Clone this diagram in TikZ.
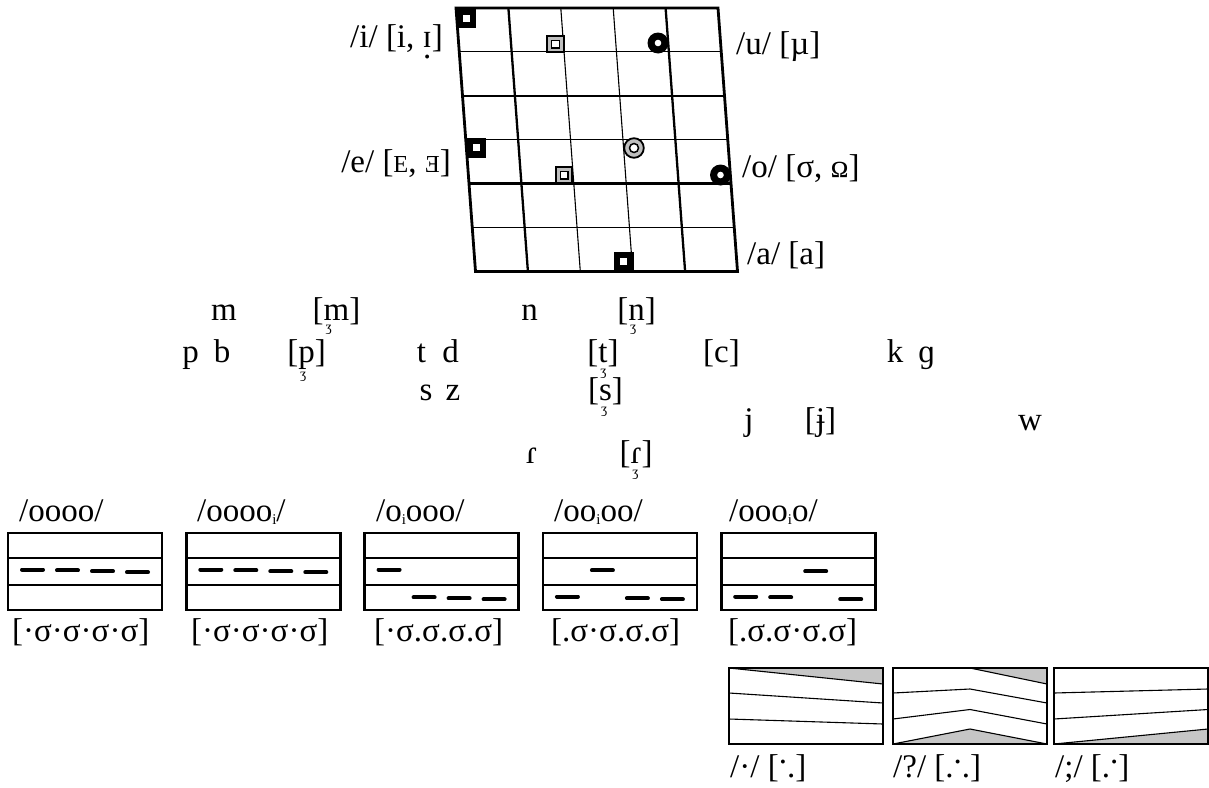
\documentclass[tikz,border=0pt]{standalone}
\usepackage{fontspec}
\setmainfont{Liberation Serif}
\usepackage{graphicx}
\newcommand\lab{\fontsize{33}{38}\selectfont}
% small ezh hook under the left part of a letter (#1 = how far down)
\newcommand\hk[2][0.34em]{\leavevmode\rlap{\kern0.06em\raisebox{-#1}{\scalebox{0.42}{ʒ}}}#2}
\newcommand\dotb[1]{\leavevmode\setbox0\hbox{#1}\rlap{\hbox to\wd0{\hss\raisebox{-0.36em}{.}\hss}}\box0}
\newcommand\tk{\raisebox{-0.12em}{\scalebox{0.45}{i}}}
\newcommand\hd{\raisebox{0.42em}{.}}
\newcommand\scE{\scalebox{0.74}{E}}
\newcommand\rscE{\reflectbox{\scalebox{0.74}{E}}}
\newcommand\tomega{\rotatebox[origin=c]{180}{ʊ}}

\begin{document}
\begin{tikzpicture}[x=1pt, y=-1pt,
  txt/.style={font=\lab, inner sep=0pt},
  frame/.style={line width=2.8pt},
  thickln/.style={line width=2.3pt},
  thinln/.style={line width=1.1pt},
  tonemark/.style={line width=4pt, line cap=round},
  shade/.style={fill=gray!45},
  blksq/.pic={\fill (-10,-10) rectangle (10,10);
              \fill[white] (-3.5,-3.5) rectangle (3.5,3.5);},
  greysq/.pic={\filldraw[fill=gray!50, line width=1.8pt] (-8.2,-8.2) rectangle (8.2,8.2);
               \filldraw[fill=white, line width=1.4pt] (-3.8,-3.8) rectangle (3.8,3.8);},
  blkring/.pic={\fill (0,0) circle (10.5);
                \fill[white] (0,0) circle (3.3);},
  greyring/.pic={\filldraw[fill=gray!50, line width=1.8pt] (0,0) circle (9.8);
                 \filldraw[fill=white, line width=1.5pt] (0,0) circle (4.5);}
]
\useasboundingbox (0,0) rectangle (1209,787);

% vowel chart
\begin{scope}[shift={(456,8)}, x={(52.4pt,0pt)}, y={(3.25pt,-43.9pt)}]
  \foreach \v in {1,3,5} \draw[thinln] (0,\v) -- (5,\v);
  \foreach \v in {2,4} \draw[thickln] (0,\v) -- (5,\v);
  \foreach \u in {2,3} \draw[thinln] (\u,0) -- (\u,6);
  \foreach \u in {1,4} \draw[thickln] (\u,0) -- (\u,6);
  \draw[frame] (0,0) -- (5,0) -- (5,6) -- (0,6) -- cycle;
\end{scope}

\pic at (466,18) {blksq};
\pic at (555.5,44) {greysq};
\pic at (658,43) {blkring};
\pic at (476,147.5) {blksq};
\pic at (634,148) {greyring};
\pic at (564,175) {greysq};
\pic at (720.5,175) {blkring};
\pic at (623.5,261.5) {blksq};

\node[txt, anchor=base east] (vi) at (443,47)  {/i/ [i, \dotb{ɪ}]};
\node[txt, anchor=base west] (vu) at (736,54)  {/u/ [µ]};
\node[txt, anchor=base east] (ve) at (451,172) {/e/ [\scE, \rscE]};
\node[txt, anchor=base west] (vo) at (742,177) {/o/ [σ, \tomega]};
\node[txt, anchor=base west] (va) at (747,264) {/a/ [a]};

% consonants
\foreach \nm/\px/\py/\tx in {
    cm/224/320/m, cmh/336.5/320/{[\hk{m}]}, cn/529.5/320/n, cnh/636.5/320/{[\hk{n}]},
    cp/190.5/362/p, cb/222/362/b, cph/306.5/362/{[\hk[0.5em]{p}]},
    ct/421.5/362/t, cd/450.5/362/d, cth/603/362/{[\hk[0.4em]{t}]},
    cc/721.5/362/{[c]}, ck/895/362/k, cg/926.5/362/ɡ,
    cs/426/400/s, cz/453/400/z, csh/605.5/400/{[\hk[0.4em]{s}]},
    cj/749/430/j, cjh/820.5/430/{[ɉ]}, cw/1030/430/w,
    cr/531.5/463/ɾ, crh/636/463/{[\hk[0.4em]{ɾ}]}}
  \node[txt, anchor=base] (\nm) at (\px,\py) {\tx};

% tone boxes
\foreach \k/\a/\b/\c/\d in {0/1/1/1/1, 1/1/1/1/1, 2/1/0/0/0, 3/0/1/0/0, 4/0/0/1/0}{
  \begin{scope}[shift={(8+178.3*\k,533)}]
    \draw[thinln] (0,25) -- (154,25) (0,52) -- (154,52);
    \draw[frame] (0,0) rectangle (154,77);
    \foreach \lv [count=\i from 0] in {\a,\b,\c,\d}
      \draw[tonemark] ({14+35*\i},{63.5-27*\lv+0.9*\i}) -- ++(21,0);
  \end{scope}
}

\node[txt, anchor=base west] (t0) at (19,521)  {/oooo/};
\node[txt, anchor=base west] (t1) at (197,521) {/oooo\tk/};
\node[txt, anchor=base west] (t2) at (376,521) {/o\tk ooo/};
\node[txt, anchor=base west] (t3) at (554,521) {/oo\tk oo/};
\node[txt, anchor=base west] (t4) at (729,521) {/ooo\tk o/};

\node[txt, anchor=base west] (s0) at (12,641)  {[·σ·σ·σ·σ]};
\node[txt, anchor=base west] (s1) at (191,641) {[·σ·σ·σ·σ]};
\node[txt, anchor=base west] (s2) at (374,641) {[·σ.σ.σ.σ]};
\node[txt, anchor=base west] (s3) at (551,641) {[.σ·σ.σ.σ]};
\node[txt, anchor=base west] (s4) at (728,641) {[.σ.σ·σ.σ]};

% contour boxes
\begin{scope}[shift={(729,668)}]
  \fill[shade] (0,0) -- (154,0) -- (154,16) -- cycle;
  \draw[thinln] (0,0) -- (154,16) (0,25) -- (154,35) (0,51) -- (154,56);
  \draw[frame] (0,0) rectangle (154,76);
\end{scope}
\begin{scope}[shift={(893,668)}]
  \fill[shade] (77,0) -- (154,0) -- (154,16) -- cycle;
  \fill[shade] (0,76) -- (77,61) -- (154,76) -- cycle;
  \draw[thinln] (77,0) -- (154,16) (0,25) -- (77,21) -- (154,35)
    (0,51) -- (77,41.5) -- (154,56) (0,76) -- (77,61) -- (154,76);
  \draw[frame] (0,0) rectangle (154,76);
\end{scope}
\begin{scope}[shift={(1054,668)}]
  \fill[shade] (0,76) -- (154,61) -- (154,76) -- cycle;
  \draw[thinln] (0,25) -- (154,21) (0,51) -- (154,41.5) (0,76) -- (154,61);
  \draw[frame] (0,0) rectangle (154,76);
\end{scope}

\node[txt, anchor=base west] (f0) at (730,777)  {/·/ [\hd.]};
\node[txt, anchor=base west] (f1) at (893,777)  {/?/ [.\hd.]};
\node[txt, anchor=base west] (f2) at (1055,777) {/;/ [.\hd]};
\end{tikzpicture}
\end{document}
